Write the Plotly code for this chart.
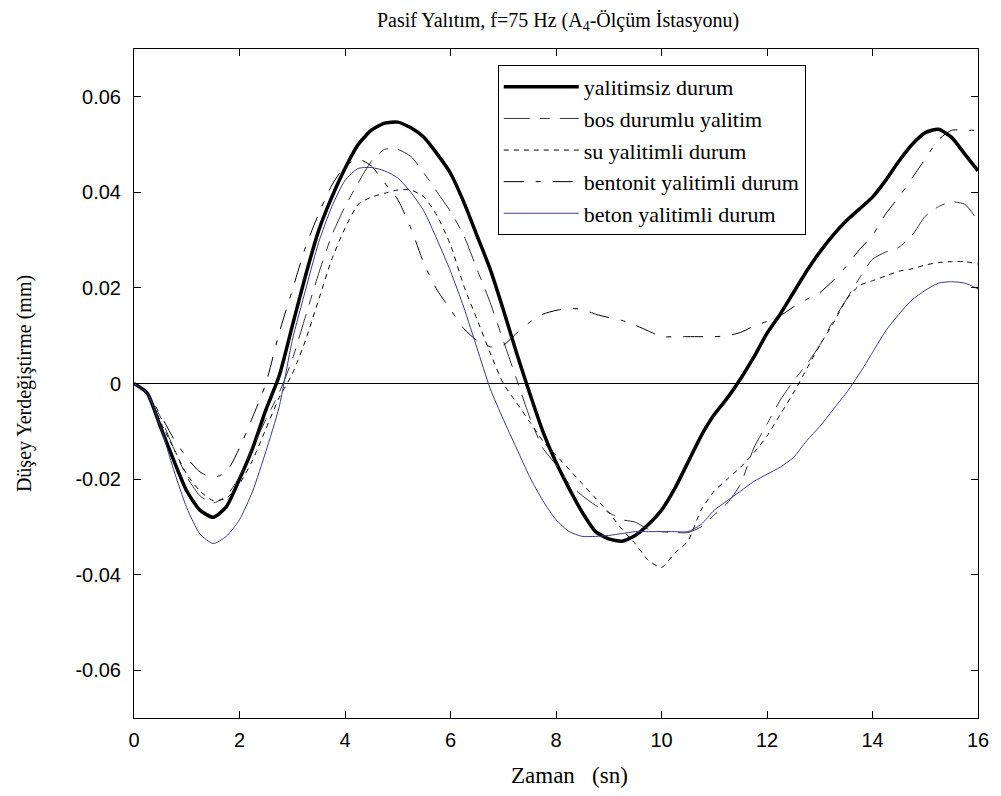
import plotly.graph_objects as go

# time axis (s), sampled every 0.25 s
t = [i * 0.25 for i in range(65)]

# vertical displacement (mm) for each case
yalitimsiz = [0, -0.002, -0.009, -0.016, -0.0225, -0.0265, -0.028, -0.0258, -0.020, -0.0135,
              -0.0055, 0.0015, 0.012, 0.0225, 0.032, 0.039, 0.045, 0.050, 0.053, 0.0545,
              0.0547, 0.0535, 0.0515, 0.048, 0.044, 0.038, 0.031, 0.024, 0.0155, 0.0065,
              -0.002, -0.010, -0.0165, -0.022, -0.027, -0.031, -0.0325, -0.033, -0.0318, -0.0295,
              -0.0265, -0.022, -0.0165, -0.011, -0.0065, -0.003, 0.001, 0.0055, 0.0105, 0.0145,
              0.019, 0.0235, 0.0275, 0.031, 0.034, 0.0365, 0.039, 0.0425, 0.0465, 0.050,
              0.0525, 0.0532, 0.0515, 0.048, 0.0445]

bos_durumlu = [0, -0.002, -0.007, -0.0135, -0.0195, -0.0235, -0.025, -0.0235, -0.0195, -0.0135,
               -0.0075, -0.002, 0.005, 0.014, 0.023, 0.031, 0.037, 0.042, 0.0465, 0.049,
               0.049, 0.0475, 0.044, 0.040, 0.036, 0.031, 0.024, 0.017, 0.009, 0.001,
               -0.007, -0.0135, -0.017, -0.021, -0.0235, -0.0255, -0.027, -0.0285, -0.029, -0.0305,
               -0.031, -0.0312, -0.0312, -0.030, -0.0275, -0.025, -0.021, -0.0135, -0.0085, -0.0035,
               0.0005, 0.004, 0.008, 0.013, 0.0175, 0.022, 0.026, 0.0275, 0.0285, 0.031,
               0.035, 0.037, 0.038, 0.0375, 0.034]

su = [0, -0.002, -0.008, -0.0135, -0.019, -0.0225, -0.0245, -0.024, -0.021, -0.016,
      -0.0095, -0.003, 0.002, 0.009, 0.0175, 0.026, 0.0325, 0.0375, 0.039, 0.0398,
      0.0405, 0.0405, 0.039, 0.035, 0.029, 0.0205, 0.0135, 0.0065, 0.000, -0.004,
      -0.008, -0.012, -0.015, -0.018, -0.021, -0.024, -0.027, -0.0305, -0.0335, -0.037,
      -0.0385, -0.0355, -0.033, -0.0265, -0.0225, -0.020, -0.0175, -0.0145, -0.011, -0.0065,
      -0.002, 0.003, 0.008, 0.0125, 0.0175, 0.0205, 0.0215, 0.0225, 0.0235, 0.024,
      0.0248, 0.0253, 0.0255, 0.0255, 0.025]

bentonit = [0, -0.002, -0.0065, -0.0115, -0.0155, -0.0185, -0.0197, -0.0185, -0.0135, -0.007,
            0.000, 0.0105, 0.0195, 0.0285, 0.0355, 0.0415, 0.0455, 0.047, 0.0455, 0.042,
            0.0385, 0.0325, 0.025, 0.0195, 0.0155, 0.0115, 0.009, 0.0077, 0.0080, 0.0105,
            0.0128, 0.0145, 0.0153, 0.0157, 0.0155, 0.0145, 0.0138, 0.0132, 0.0122, 0.011,
            0.0098, 0.0098, 0.0098, 0.0098, 0.0098, 0.0100, 0.0107, 0.012, 0.013, 0.0142,
            0.016, 0.0176, 0.019, 0.0215, 0.0245, 0.028, 0.031, 0.0355, 0.039, 0.043,
            0.047, 0.051, 0.053, 0.053, 0.053]

beton = [0, -0.002, -0.009, -0.018, -0.026, -0.0315, -0.0335, -0.032, -0.0285, -0.0225,
         -0.0142, -0.005, 0.009, 0.0195, 0.0295, 0.037, 0.0425, 0.045, 0.0452, 0.0445,
         0.043, 0.040, 0.036, 0.030, 0.0235, 0.016, 0.0075, -0.001, -0.0075, -0.0135,
         -0.0195, -0.0245, -0.0285, -0.031, -0.032, -0.032, -0.0318, -0.0314, -0.031, -0.031,
         -0.031, -0.031, -0.031, -0.0295, -0.0265, -0.0245, -0.0225, -0.0205, -0.019, -0.0175,
         -0.0155, -0.012, -0.009, -0.0055, -0.002, 0.002, 0.0065, 0.011, 0.0145, 0.0175,
         0.0195, 0.021, 0.0213, 0.021, 0.0198]

series = [
    ("yalitimsiz durum", yalitimsiz, "#000000", 3.5, "solid"),
    ("bos durumlu yalitim", bos_durumlu, "#333333", 1, "26px,10px,10px,10px"),
    ("su yalitimli durum", su, "#000000", 1, "5px,5px"),
    ("bentonit yalitimli durum", bentonit, "#000000", 1, "20px,12px,5px,12px"),
    ("beton yalitimli durum", beton, "#3a3a8c", 1, "solid"),
]

fig = go.Figure()
for name, vals, color, width, dash in series:
    fig.add_trace(go.Scatter(
        x=t, y=vals, name=name, mode="lines", legendgroup=name,
        line=dict(color=color, width=width, dash=dash, shape="spline", smoothing=0.6),
    ))

tick_font = dict(family="Liberation Sans, Arial", size=20, color="black")
serif = "Liberation Serif, Times New Roman"

fig.update_layout(
    width=1001, height=796,
    margin=dict(l=134, r=19, t=49, b=78),
    paper_bgcolor="white", plot_bgcolor="white",
    title=dict(text="Pasif Yalıtım, f=75 Hz (A<sub>4</sub>-Ölçüm İstasyonu)",
               x=0.5575, xanchor="center", y=0.975, yanchor="middle",
               font=dict(family=serif, size=20, color="black")),
    showlegend=True,
    legend=dict(x=0.431, y=0.976, xanchor="left", yanchor="top",
                bgcolor="white", bordercolor="black", borderwidth=1,
                font=dict(family=serif, size=22, color="black"),
                itemwidth=75, tracegroupgap=4, traceorder="normal"),
    annotations=[dict(text="Zaman   (sn)", xref="paper", yref="paper",
                      x=(571 - 134) / 847, y=-(775 - 718) / 669,
                      xanchor="center", yanchor="middle", showarrow=False,
                      font=dict(family=serif, size=23, color="black"))],
)

fig.update_xaxes(
    range=[0, 16], tickmode="array", tickvals=[0, 2, 4, 6, 8, 10, 12, 14, 16],
    ticks="inside", ticklen=7, tickcolor="black", mirror="ticks",
    showline=True, linecolor="black", linewidth=1, showgrid=False, zeroline=False,
    tickfont=tick_font, ticklabelstandoff=4,
)
fig.update_yaxes(
    range=[-0.07, 0.07], tickmode="array",
    tickvals=[-0.06, -0.04, -0.02, 0, 0.02, 0.04, 0.06],
    ticktext=["-0.06", "-0.04", "-0.02", "0", "0.02", "0.04", "0.06"],
    ticks="inside", ticklen=7, tickcolor="black", mirror="ticks",
    showline=True, linecolor="black", linewidth=1, showgrid=False,
    zeroline=True, zerolinecolor="black", zerolinewidth=1,
    tickfont=tick_font, ticklabelstandoff=8,
    title=dict(text="Düşey Yerdeğiştirme (mm)", font=dict(family=serif, size=20, color="black"), standoff=38),
)

fig.write_html("out.html")
